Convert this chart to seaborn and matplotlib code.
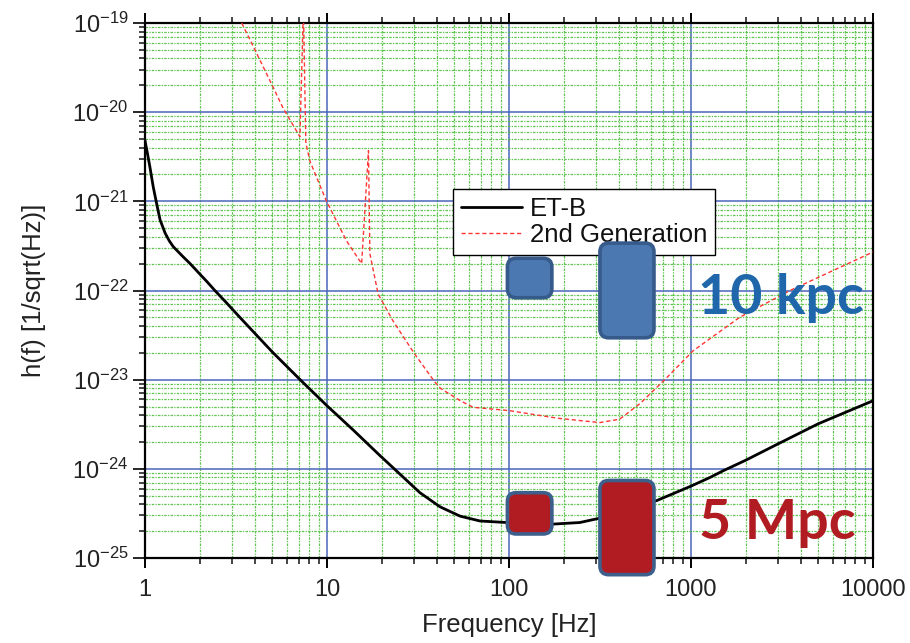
import numpy as np
import pandas as pd
import matplotlib
matplotlib.use("Agg")
import matplotlib.pyplot as plt
import seaborn as sns
from matplotlib.patches import FancyBboxPatch
from matplotlib.ticker import FixedLocator, FixedFormatter, LogLocator, NullFormatter

# ---------------- data ----------------
etb_f = [1.0, 1.03, 1.065, 1.11, 1.16, 1.21, 1.29, 1.36, 1.43, 1.6, 1.77, 2.0, 2.18, 2.42,
         2.8, 3.32, 5.0, 7.3, 10, 14, 19.6, 25.2, 32.4, 41.8, 53.8, 69.3, 97, 135, 175, 245,
         316, 647, 1000, 1271, 1500, 2000, 3000, 5000, 10000]
etb_h = [4.8e-21, 3.5e-21, 2.4e-21, 1.45e-21, 9.3e-22, 6.2e-22, 4.4e-22, 3.6e-22, 3.1e-22,
         2.45e-22, 2.0e-22, 1.53e-22, 1.27e-22, 1.0e-22,
         7.3e-23, 5.0e-23, 2.05e-23, 9.5e-24, 5.1e-24, 2.7e-24, 1.4e-24, 8.7e-25, 5.4e-25,
         3.75e-25, 2.95e-25, 2.6e-25, 2.5e-25, 2.43e-25, 2.4e-25, 2.5e-25,
         2.8e-25, 4.4e-25, 6.4e-25, 8.0e-25, 9.5e-25, 1.25e-24, 1.9e-24, 3.2e-24, 5.8e-24]

gen2_f = [3.4, 4.0, 5.0, 5.75, 7.1, 7.42, 7.65, 8.07, 9.9, 12.8, 15.5, 16.9, 17.2, 19.1,
          23, 30, 39, 42, 54, 63.5, 100, 184, 315, 405, 525, 735, 1025, 1850, 3500, 10000]
gen2_h = [1.0e-19, 5.1e-20, 2.0e-20, 1.1e-20, 5.3e-21, 1.5e-19, 4.5e-21, 2.8e-21, 1.02e-21,
          3.6e-22, 2.0e-22, 3.7e-21, 2.6e-22, 9.1e-23,
          4.6e-23, 2.0e-23, 9.5e-24, 8.0e-24, 5.8e-24, 4.9e-24, 4.5e-24, 3.7e-24, 3.3e-24,
          3.6e-24, 5.4e-24, 1.05e-23, 2.1e-23, 5.0e-23, 1.0e-22, 2.7e-22]

box_f_lo = [98, 316, 98, 316]
box_f_hi = [172, 626, 172, 626]
box_h_lo = [8.3e-23, 2.95e-23, 1.86e-25, 6.5e-26]
box_h_hi = [2.3e-22, 3.4e-22, 5.4e-25, 7.4e-25]
box_face = ["#4b78b0", "#4b78b0", "#b01c22", "#b01c22"]
box_edge = ["#365a8a", "#365a8a", "#3d5f8c", "#3d5f8c"]

annot_text = ["10 kpc", "5 Mpc"]
annot_f = [3125, 2970]
annot_h = [8.3e-23, 2.5e-25]
annot_color = ["#1f66aa", "#b01c22"]

x_ticks = [1, 10, 100, 1000, 10000]
x_tick_labels = ["1", "10", "100", "1000", "10000"]
y_ticks = [1e-25, 1e-24, 1e-23, 1e-22, 1e-21, 1e-20, 1e-19]
y_tick_labels = [r"$\mathregular{10^{-25}}$", r"$\mathregular{10^{-24}}$", r"$\mathregular{10^{-23}}$",
                 r"$\mathregular{10^{-22}}$", r"$\mathregular{10^{-21}}$", r"$\mathregular{10^{-20}}$",
                 r"$\mathregular{10^{-19}}$"]

# ---------------- style ----------------
sns.set_theme(style="white")
plt.rcParams["font.family"] = ["Liberation Sans", "DejaVu Sans"]
plt.rcParams["mathtext.fontset"] = "custom"
plt.rcParams["mathtext.rm"] = "Liberation Sans"
plt.rcParams["mathtext.it"] = "Liberation Sans:italic"
plt.rcParams["mathtext.bf"] = "Liberation Sans:bold"

fig = plt.figure(figsize=(9.1, 6.43), dpi=100)
ax = fig.add_axes([145 / 910, 1 - 558 / 643, 728 / 910, 535 / 643])
ax.set_facecolor("white")

sns.lineplot(x=etb_f, y=etb_h, ax=ax, color="black", lw=2.0, label="ET-B",
             sort=False, estimator=None, zorder=4)
sns.lineplot(x=gen2_f, y=gen2_h, ax=ax, color="#ff3535", lw=1.0, linestyle=(0, (3, 2)),
             label="2nd Generation", sort=False, estimator=None, zorder=4)

ax.set_xscale("log")
ax.set_yscale("log")
ax.set_xlim(1, 10000)
ax.set_ylim(1e-25, 1e-19)

ax.xaxis.set_major_locator(FixedLocator(x_ticks))
ax.xaxis.set_major_formatter(FixedFormatter(x_tick_labels))
ax.yaxis.set_major_locator(FixedLocator(y_ticks))
ax.yaxis.set_major_formatter(FixedFormatter(y_tick_labels))
ax.xaxis.set_minor_locator(LogLocator(base=10, subs=np.arange(2, 10), numticks=20))
ax.yaxis.set_minor_locator(LogLocator(base=10, subs=np.arange(2, 10), numticks=20))
ax.xaxis.set_minor_formatter(NullFormatter())
ax.yaxis.set_minor_formatter(NullFormatter())

ax.grid(which="minor", color="#4cbf3c", lw=0.9, linestyle=(0, (2, 1, 1, 1)), alpha=0.9)
ax.grid(which="major", color="#4a66bb", lw=1.1, linestyle="-")
ax.set_axisbelow(True)

for s in ["left", "bottom", "top", "right"]:
    ax.spines[s].set_visible(True)
    ax.spines[s].set_color("black")
    ax.spines[s].set_linewidth(1.6)

ax.tick_params(axis="x", which="major", direction="out", length=7, width=1.4, top=True,
               bottom=True, labelsize=17, pad=8, colors="black")
ax.tick_params(axis="x", which="minor", direction="out", length=4, width=1.2, top=True, bottom=True)
ax.tick_params(axis="y", which="major", direction="out", length=9, width=1.4, left=True,
               right=False, labelsize=17, pad=3)
ax.tick_params(axis="y", which="minor", direction="out", length=4, width=1.2, left=True, right=False)
for lab in ax.get_xticklabels() + ax.get_yticklabels():
    lab.set_color("#222222")

ax.set_xlabel("Frequency [Hz]", fontsize=18.5, color="#222222", labelpad=9)
ax.set_ylabel("h(f) [1/sqrt(Hz)]", fontsize=18.5, color="#222222", labelpad=19)

leg = ax.legend(loc="upper left", bbox_to_anchor=((453 - 145) / 728, 1 - (189 - 23) / 535),
                borderaxespad=0, fontsize=18.5, frameon=True, fancybox=False,
                handlelength=2.4, handletextpad=0.3, borderpad=0.3, labelspacing=0.1)
leg.get_frame().set_edgecolor("black")
leg.get_frame().set_linewidth(1.0)
leg.get_frame().set_alpha(1)
leg.set_zorder(5)
for t in leg.get_texts():
    t.set_color("#111111")

# rounded boxes, placed through the data transform
bbox_px = ax.get_window_extent()
aspect = bbox_px.width / bbox_px.height
inv = ax.transAxes.inverted()
for flo, fhi, hlo, hhi, fc, ec in zip(box_f_lo, box_f_hi, box_h_lo, box_h_hi, box_face, box_edge):
    (x0, y0) = inv.transform(ax.transData.transform((flo, hlo)))
    (x1, y1) = inv.transform(ax.transData.transform((fhi, hhi)))
    p = FancyBboxPatch((x0, y0), x1 - x0, y1 - y0,
                       boxstyle="round,pad=0,rounding_size=0.012",
                       mutation_aspect=aspect, transform=ax.transAxes,
                       facecolor=fc, edgecolor=ec, lw=2.6, zorder=8, clip_on=False)
    ax.add_patch(p)

for txt, f, h, c in zip(annot_text, annot_f, annot_h, annot_color):
    ax.text(f, h, txt, color=c, fontsize=40, fontweight="bold", family=["Lato", "DejaVu Sans"],
            ha="center", va="center", zorder=7)

fig.savefig("out.png", dpi=100)
